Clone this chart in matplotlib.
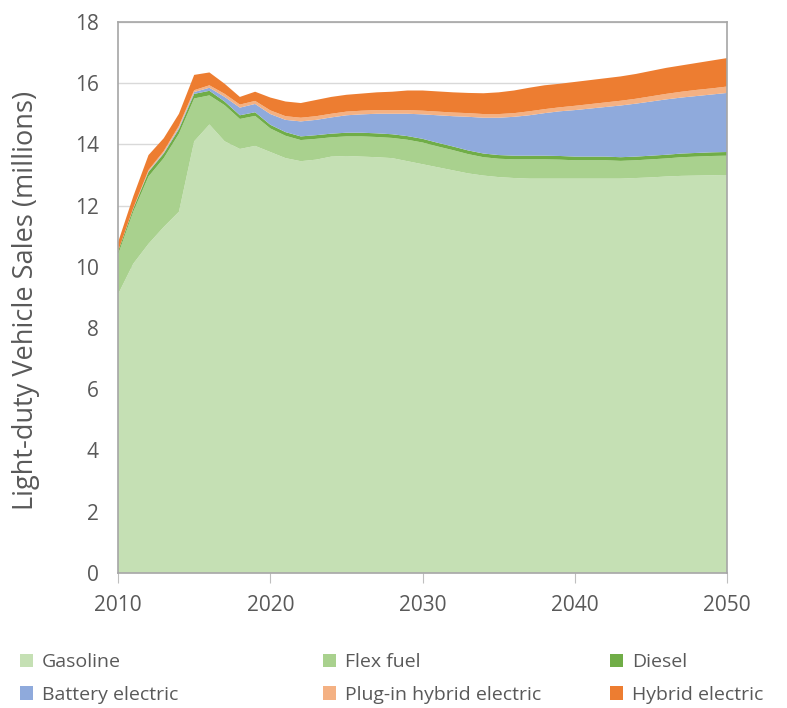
import matplotlib
matplotlib.use("Agg")
import matplotlib.pyplot as plt
from matplotlib.patches import Patch

plt.rcParams['font.family'] = ['Open Sans', 'DejaVu Sans']

# light-duty vehicle sales by fuel type, millions per year
years = list(range(2010, 2051))

gasoline = [9.1, 10.1, 10.75, 11.3, 11.8, 14.1, 14.65, 14.1, 13.85, 13.95,
            13.75, 13.55, 13.45, 13.5, 13.6, 13.62, 13.6, 13.58, 13.55, 13.45,
            13.35, 13.25, 13.15, 13.05, 12.98, 12.93, 12.9, 12.88, 12.88, 12.88,
            12.88, 12.88, 12.88, 12.88, 12.9, 12.92, 12.95, 12.97, 12.98, 12.99,
            13.0]
flex_fuel = [1.3, 1.7, 2.2, 2.25, 2.55, 1.4, 0.95, 1.18, 0.98, 0.98,
             0.77, 0.73, 0.69, 0.68, 0.63, 0.64, 0.66, 0.66, 0.66, 0.70,
             0.71, 0.68, 0.66, 0.63, 0.60, 0.60, 0.61, 0.63, 0.63, 0.62,
             0.60, 0.60, 0.60, 0.58, 0.58, 0.59, 0.59, 0.61, 0.62, 0.63,
             0.63]
diesel = [0.1, 0.1, 0.15, 0.15, 0.15, 0.15, 0.15] + [0.12] * 34
battery = [0.0, 0.01, 0.02, 0.03, 0.05, 0.06, 0.1, 0.15, 0.25, 0.27,
           0.35, 0.4, 0.49, 0.5, 0.53, 0.57, 0.6, 0.64, 0.67, 0.73,
           0.8, 0.9, 0.99, 1.1, 1.17, 1.22, 1.27, 1.32, 1.39, 1.46,
           1.52, 1.57, 1.62, 1.69, 1.73, 1.77, 1.81, 1.83, 1.86, 1.89,
           1.93]
plugin_hybrid = [0.0, 0.01, 0.04, 0.05, 0.06, 0.06, 0.08, 0.1, 0.1, 0.1,
                 0.12, 0.12, 0.12, 0.12, 0.12, 0.12, 0.12, 0.12, 0.12, 0.12,
                 0.12, 0.12, 0.12, 0.12, 0.12, 0.12, 0.12, 0.13, 0.13, 0.13,
                 0.14, 0.145, 0.15, 0.155, 0.16, 0.17, 0.18, 0.19, 0.2, 0.2,
                 0.21]
hybrid = [0.3, 0.38, 0.49, 0.42, 0.39, 0.5, 0.42, 0.33, 0.25, 0.3,
          0.42, 0.48, 0.48, 0.53, 0.55, 0.55, 0.56, 0.58, 0.6, 0.64,
          0.66, 0.66, 0.66, 0.66, 0.68, 0.71, 0.74, 0.77, 0.78, 0.77,
          0.78, 0.785, 0.79, 0.795, 0.81, 0.83, 0.85, 0.86, 0.88, 0.91,
          0.93]

labels = ['Gasoline', 'Flex fuel', 'Diesel', 'Battery electric',
          'Plug-in hybrid electric', 'Hybrid electric']
colors = ['#c5e0b4', '#a9d18e', '#70ad47', '#8faadc', '#f4b183', '#ed7d31']

fig = plt.figure(figsize=(7.87, 7.08), dpi=100)
ax = fig.add_axes([0.15, 0.191, 0.774, 0.778])

ax.stackplot(years, gasoline, flex_fuel, diesel, battery, plugin_hybrid, hybrid,
             colors=colors, linewidth=0)

ax.set_xlim(2010, 2050)
ax.set_ylim(0, 18)
ax.set_xticks([2010, 2020, 2030, 2040, 2050])
ax.set_yticks(range(0, 19, 2))
ax.grid(axis='y', color='#d9d9d9', linewidth=1)
ax.set_axisbelow(True)

for side in ['left', 'right', 'top', 'bottom']:
    ax.spines[side].set_color('#a6a6a6')
    ax.spines[side].set_linewidth(1.2)
ax.tick_params(axis='y', length=0, pad=14, labelsize=15, labelcolor='#595959')
ax.tick_params(axis='x', length=7, color='#bfbfbf', pad=9, labelsize=15,
               labelcolor='#595959')

ax.set_ylabel('Light-duty Vehicle Sales (millions)', fontsize=19.5,
              color='#595959')
ax.yaxis.set_label_coords(-0.128, 0.495)

# legend in three columns, two rows each
legend_x = [0.015, 0.40, 0.765]
for i, x in enumerate(legend_x):
    handles = [Patch(facecolor=colors[i], label=labels[i]),
               Patch(facecolor=colors[i + 3], label=labels[i + 3])]
    fig.legend(handles=handles, loc='upper left', bbox_to_anchor=(x, 0.088),
               frameon=False, fontsize=14, handlelength=0.7,
               handleheight=0.7, handletextpad=0.45, labelspacing=0.75,
               labelcolor='#595959', borderaxespad=0)

fig.savefig('out.png', dpi=100)
